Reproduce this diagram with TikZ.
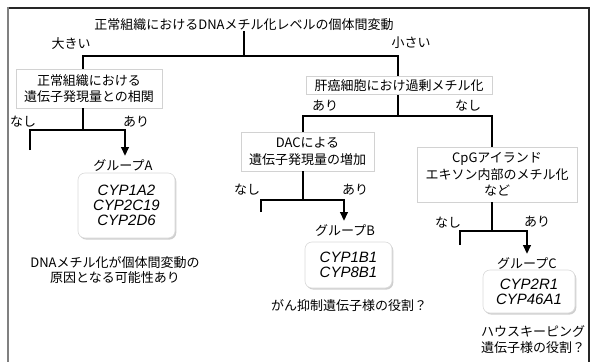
\documentclass[tikz,border=0pt]{standalone}
\usepackage{fontspec}
\setmainfont{Noto Sans CJK JP}
\newfontfamily\cypfont{Liberation Sans}
\usetikzlibrary{arrows.meta,shadows}
\begin{document}
\begin{tikzpicture}[x=1pt,y=-1pt,
  jp/.style={font=\fontsize{13}{16.5}\selectfont, inner sep=0pt, align=center},
  qbox/.style={jp, draw=gray!35, line width=0.8pt, fill=white},
  gbox/.style={draw=gray!30, line width=0.6pt, rounded corners=7pt, fill=white,
    drop shadow={shadow xshift=1.3pt, shadow yshift=-1.6pt, fill=gray!75},
    font=\cypfont\itshape\fontsize{15}{15}\selectfont, align=center, inner sep=0pt},
  ln/.style={line width=2.7pt},
  arr/.style={ln, -{Triangle[width=7.5pt,length=9pt]}},
]
\useasboundingbox (0,0) rectangle (592,362);
% frame
\draw[line width=1.5pt, black!85] (8,8) -- (589,8) -- (589,362);
\draw[line width=2pt, gray] (8,7.3) -- (8,362);

% texts
\node[jp] (title) at (244,25) {正常組織におけるDNAメチル化レベルの個体間変動};
\node[jp] (big) at (71,44) {大きい};
\node[jp] (small) at (411,43) {小さい};

\node[qbox, minimum width=146pt, minimum height=39pt] (box1) at (89,88.5) {正常組織における\\遺伝子発現量との相関};
\node[qbox, minimum width=186pt, minimum height=18pt] (box2) at (399,85.5) {肝癌細胞におけ過剰メチル化};
\node[qbox, minimum width=133pt, minimum height=39pt] (box3) at (307.5,151.5) {DACによる\\遺伝子発現量の増加};
\node[qbox, minimum width=160pt, minimum height=55pt] (box4) at (497,174.5) {CpGアイランド\\エキソン内部のメチル化\\など};

\node[jp] (nashiA) at (23,122) {なし};
\node[jp] (ariA) at (136,122) {あり};
\node[jp] (grpA) at (123,165) {グループA};
\node[gbox, minimum width=97pt, minimum height=65pt] (gA) at (126.5,205.5) {CYP1A2\\CYP2C19\\CYP2D6};
\node[jp, font=\fontsize{13}{15}\selectfont] (noteA) at (115,270.5) {DNAメチル化が個体間変動の\\原因となる可能性あり};

\node[jp] (ariR) at (325,106) {あり};
\node[jp] (nashiR) at (468,106) {なし};

\node[jp] (nashiB) at (247,190) {なし};
\node[jp] (ariB) at (355,190) {あり};
\node[jp] (grpB) at (345,230) {グループB};
\node[gbox, minimum width=87pt, minimum height=46pt] (gB) at (348.5,265) {CYP1B1\\CYP8B1};
\node[jp] (noteB) at (349,306) {がん抑制遺伝子様の役割？};

\node[jp] (nashiC) at (448,223) {なし};
\node[jp] (ariC) at (537,222) {あり};
\node[jp] (grpC) at (527,263) {グループC};
\node[gbox, minimum width=92pt, minimum height=43pt] (gC) at (529,291.5) {CYP2R1\\CYP46A1};
\node[jp, font=\fontsize{13}{16}\selectfont] (noteC) at (533,340) {ハウスキーピング\\遺伝子様の役割？};

% junction coordinates
\coordinate (jT) at (244,56);
\coordinate (jL) at (83,56);
\coordinate (jR) at (398,56);
\coordinate (jA) at (83,130);
\coordinate (stubA) at (30,150);
\coordinate (cA) at (125,130);
\coordinate (endA) at (125,156);
\coordinate (jR2) at (398,116);
\coordinate (jDL) at (303,116);
\coordinate (jDR) at (492,116);
\coordinate (jB) at (303,200);
\coordinate (stubB) at (261,212);
\coordinate (cB) at (344,200);
\coordinate (endB) at (344,221);
\coordinate (jC) at (492,231);
\coordinate (stubC) at (460,245);
\coordinate (cC) at (527,231);
\coordinate (endC) at (527,254);

% connectors
\draw[ln] (title.south -| jT) -- (jT);
\draw[ln] (jL |- box1.north) |- (jR) -- (jR |- box2.north);
\draw[ln] (jA |- box1.south) -- (jA);
\draw[arr] (stubA) |- (cA) -- (endA);
\draw[ln] (jR2 |- box2.south) -- (jR2);
\draw[ln] (jDL |- box3.north) |- (jDR) -- (jDR |- box4.north);
\draw[ln] (jB |- box3.south) -- (jB);
\draw[arr] (stubB) |- (cB) -- (endB);
\draw[ln] (jC |- box4.south) -- (jC);
\draw[arr] (stubC) |- (cC) -- (endC);
\end{tikzpicture}
\end{document}
